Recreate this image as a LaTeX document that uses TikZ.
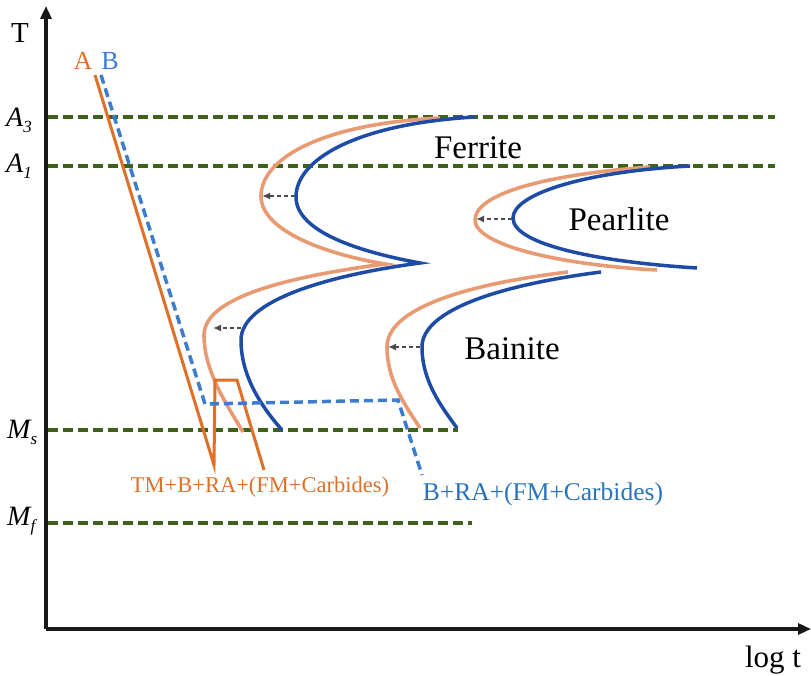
\documentclass[tikz,border=0pt]{standalone}
\usepackage{fontspec}
\setmainfont{Liberation Serif}
\usetikzlibrary{arrows.meta}
\definecolor{grn}{RGB}{62,98,26}
\definecolor{dblue}{RGB}{30,75,165}
\definecolor{lblue}{RGB}{60,125,205}
\definecolor{salmon}{RGB}{232,155,115}
\definecolor{orng}{RGB}{224,112,40}
\definecolor{tblue}{RGB}{40,115,185}
\definecolor{gry}{RGB}{75,75,75}
\tikzset{
  axisline/.style={line width=3.8pt, color=black!90, -{Triangle[length=13pt,width=11pt]}},
  refline/.style={line width=3.3pt, color=grn, dash pattern=on 10pt off 5pt},
  newcurve/.style={line width=3.6pt, color=salmon},
  oldcurve/.style={line width=3.5pt, color=dblue},
  shiftarrow/.style={line width=2pt, color=gry, dash pattern=on 4pt off 3pt, -{Latex[length=8pt,width=7pt]}},
  pathA/.style={line width=3pt, color=orng, line join=miter},
  pathB/.style={line width=3.5pt, color=lblue, dash pattern=on 9pt off 5pt},
  phase/.style={font=\fontsize{33}{33}\selectfont, inner sep=0pt},
  tlabel/.style={inner sep=0pt, anchor=base west}
}
\newcommand{\lbl}[2]{{\fontsize{28}{28}\selectfont\itshape #1\raisebox{-6pt}{\fontsize{17}{17}\selectfont #2}}}
\begin{document}
\begin{tikzpicture}[x=1pt,y=-1pt]
\useasboundingbox (0,0) rectangle (811,676);
% axes
\coordinate (O) at (46,629);
\coordinate (ytop) at (46,6);
\coordinate (xend) at (811,629);
\draw[axisline] (O) -- (ytop);
\draw[axisline] (O) -- (xend);
\node[inner sep=0pt, anchor=base, font=\fontsize{29}{29}\selectfont] (Tl) at (20,43) {T};
\node[inner sep=0pt, anchor=base, font=\fontsize{31}{31}\selectfont] (logt) at (773,667) {log t};
% reference lines
\coordinate (a3s) at (48,117); \coordinate (a3e) at (775,117);
\coordinate (a1s) at (48,166); \coordinate (a1e) at (775,166);
\coordinate (mss) at (48,430); \coordinate (mse) at (458,430);
\coordinate (mfs) at (48,523); \coordinate (mfe) at (472,523);
\draw[refline] (a3s) -- (a3e);
\draw[refline] (a1s) -- (a1e);
\draw[refline] (mss) -- (mse);
\draw[refline] (mfs) -- (mfe);
\node[tlabel] (A3l) at (6,127) {\lbl{A}{3}};
\node[tlabel] (A1l) at (6,173) {\lbl{A}{1}};
\node[tlabel] (Msl) at (7,438) {\lbl{M}{s}};
\node[tlabel] (Mfl) at (7,525) {\lbl{M}{f}};
% ferrite + bainite (upper) curves
\draw[newcurve] (440,118) .. controls (318,124) and (261,160) .. (261,196)
  .. controls (261,232) and (330,255) .. (385,264)
  .. controls (300,275) and (204,295) .. (204,335)
  .. controls (204,370) and (225,402) .. (243,432);
\draw[oldcurve] (475,117) .. controls (355,124) and (296,160) .. (296,197)
  .. controls (296,232) and (360,252) .. (420,263)
  .. controls (330,275) and (241,300) .. (241,340)
  .. controls (241,375) and (260,405) .. (282,430);
% bainite lower
\draw[newcurve] (568,272) .. controls (460,285) and (387,310) .. (387,347)
  .. controls (387,380) and (405,405) .. (420,428);
\draw[oldcurve] (601,272) .. controls (500,285) and (422,310) .. (422,347)
  .. controls (422,380) and (440,405) .. (457,428);
% pearlite
\draw[newcurve] (650,167) .. controls (540,175) and (475,195) .. (475,220)
  .. controls (475,245) and (560,265) .. (657,270);
\draw[oldcurve] (690,166) .. controls (580,172) and (513,195) .. (513,218)
  .. controls (513,245) and (600,262) .. (697,268);
% shift arrows
\coordinate (f1) at (295,196); \coordinate (f2) at (262,196);
\coordinate (b1) at (241,328); \coordinate (b2) at (213,328);
\coordinate (c1) at (420,347); \coordinate (c2) at (388,347);
\coordinate (p1) at (512,219); \coordinate (p2) at (476,219);
\draw[shiftarrow] (f1) -- (f2);
\draw[shiftarrow] (b1) -- (b2);
\draw[shiftarrow] (c1) -- (c2);
\draw[shiftarrow] (p1) -- (p2);
% phase labels
\node[phase] (fer) at (478,148) {Ferrite};
\node[phase] (pea) at (619,219) {Pearlite};
\node[phase] (bai) at (512,349) {Bainite};
% cooling paths
\coordinate (A0) at (95,75); \coordinate (A1) at (214,465);
\coordinate (A2) at (215,380); \coordinate (A3) at (237,380);
\coordinate (A4) at (264,470);
\draw[pathA] (A0) -- (A1) -- (A2) -- (A3) -- (A4);
\coordinate (B0) at (101,75); \coordinate (B1) at (205,404);
\coordinate (B2) at (398,400); \coordinate (B3) at (422,475);
\draw[pathB] (B0) -- (B1) -- (B2) -- (B3);
\node[inner sep=0pt, anchor=base, text=orng, font=\fontsize{26}{26}\selectfont] (Al) at (83,70) {A};
\node[inner sep=0pt, anchor=base, text=lblue, font=\fontsize{26}{26}\selectfont] (Bl) at (110,70) {B};
\node[inner sep=0pt, anchor=base, text=orng, font=\fontsize{22.5}{22.5}\selectfont] (resA) at (260,492) {TM+B+RA+(FM+Carbides)};
\node[inner sep=0pt, anchor=base, text=tblue, font=\fontsize{25.5}{25.5}\selectfont] (resB) at (543,500) {B+RA+(FM+Carbides)};
\end{tikzpicture}
\end{document}
